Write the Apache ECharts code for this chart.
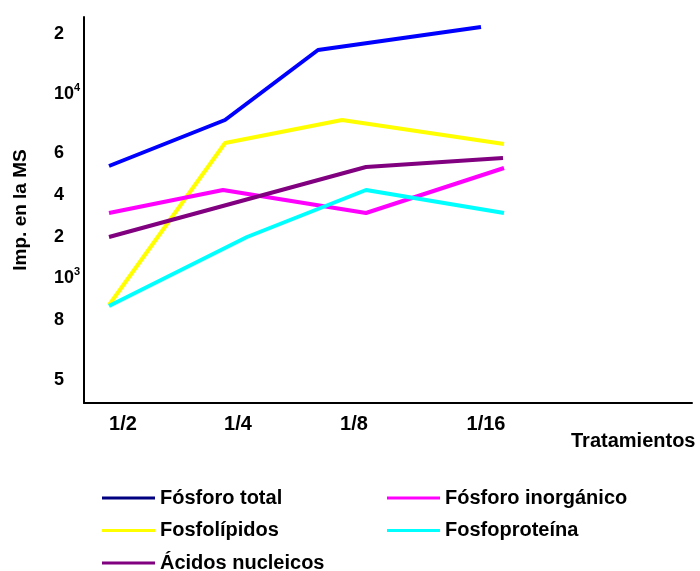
<!DOCTYPE html>
<html>
<head>
<meta charset="utf-8">
<script src="https://cdn.jsdelivr.net/npm/echarts@6/dist/echarts.min.js"></script>
<style>
html,body{margin:0;padding:0;background:#fff;}
#c{width:700px;height:571px;}
</style>
</head>
<body>
<div id="c"></div>
<script>
// Categories (treatments) and their positions along the horizontal scale
const categories = ['1/2', '1/4', '1/8', '1/16'];
const categoryPos = [39, 154, 270, 402];

// Y tick labels as printed in the original figure, with their positions on the vertical scale
const yTickLabels = ['5', '8', '10{sup|3}', '2', '4', '6', '10{sup|4}', '2'];
const yTickPos = [23, 83, 125, 166, 208, 250, 309, 369];

// Series values [x, y]
const fosforoTotal = [[25, 237], [141, 283], [234, 353], [397, 376]];
const fosfolipidos = [[25, 98], [141, 260], [258, 283], [420, 259]];
const fosforoInorganico = [[25, 190], [139, 213], [282, 190], [420, 235]];
const acidosNucleicos = [[25, 166], [282, 236], [419, 245]];
const fosfoproteina = [[25, 97], [163, 166], [282, 213], [420, 190]];

const FONT = '"Liberation Sans", Arial, sans-serif';

const xMap = {};
categoryPos.forEach((p, i) => { xMap[p] = categories[i]; });
const yMap = {};
yTickPos.forEach((p, i) => { yMap[p] = yTickLabels[i]; });

function mk(name, data, color) {
  return {
    name: name,
    type: 'line',
    data: data,
    showSymbol: false,
    symbol: 'none',
    lineStyle: { color: color, width: 4 },
    itemStyle: { color: color },
    z: 2
  };
}

const legendText = { fontFamily: FONT, fontSize: 20, fontWeight: 'bold', color: '#000' };

const chart = echarts.init(document.getElementById('c'), null, { renderer: 'canvas' });
chart.setOption({
  animation: false,
  backgroundColor: '#ffffff',
  title: {
    text: 'Tratamientos',
    left: 571,
    top: 431,
    padding: 0,
    textStyle: { fontFamily: FONT, fontSize: 20, fontWeight: 'bold', color: '#000' }
  },
  grid: { left: 84, right: 8, top: 17, bottom: 168, containLabel: false },
  xAxis: {
    type: 'value',
    min: 0,
    max: 608,
    interval: 1,
    splitLine: { show: false },
    axisTick: { show: false },
    axisLine: { show: true, lineStyle: { color: '#000', width: 2 } },
    axisLabel: {
      margin: 11,
      fontFamily: FONT,
      fontSize: 20,
      fontWeight: 'bold',
      color: '#000',
      formatter: v => xMap[v] || ''
    }
  },
  yAxis: {
    type: 'value',
    min: 0,
    max: 386,
    interval: 1,
    name: 'Imp. en la MS',
    nameLocation: 'middle',
    nameGap: 54,
    nameTextStyle: { fontFamily: FONT, fontSize: 19, fontWeight: 'bold', color: '#000' },
    splitLine: { show: false },
    axisTick: { show: false },
    axisLine: { show: true, lineStyle: { color: '#000', width: 2 } },
    axisLabel: {
      margin: 30,
      align: 'left',
      fontFamily: FONT,
      fontSize: 18,
      fontWeight: 'bold',
      color: '#000',
      formatter: v => yMap[v] || '',
      rich: {
        sup: { fontFamily: FONT, fontSize: 11, color: '#000', verticalAlign: 'top', padding: [0, 0, 12, 0] }
      }
    }
  },
  legend: [
    {
      orient: 'vertical',
      left: 102,
      top: 488,
      height: 120,
      padding: 0,
      icon: 'rect',
      itemWidth: 53,
      itemHeight: 3,
      itemGap: 12.5,
      textStyle: legendText,
      data: [
        { name: 'Fósforo total', itemStyle: { color: '#000080' } },
        { name: 'Fosfolípidos' },
        { name: 'Ácidos nucleicos' }
      ]
    },
    {
      orient: 'vertical',
      left: 387,
      top: 488,
      height: 120,
      padding: 0,
      icon: 'rect',
      itemWidth: 53,
      itemHeight: 3,
      itemGap: 12.5,
      textStyle: legendText,
      data: [
        { name: 'Fósforo inorgánico' },
        { name: 'Fosfoproteína' }
      ]
    }
  ],
  series: [
    mk('Fósforo total', fosforoTotal, '#0000ff'),
    mk('Fosfolípidos', fosfolipidos, '#ffff00'),
    mk('Fósforo inorgánico', fosforoInorganico, '#ff00ff'),
    mk('Ácidos nucleicos', acidosNucleicos, '#800080'),
    mk('Fosfoproteína', fosfoproteina, '#00ffff')
  ]
});
</script>
</body>
</html>
